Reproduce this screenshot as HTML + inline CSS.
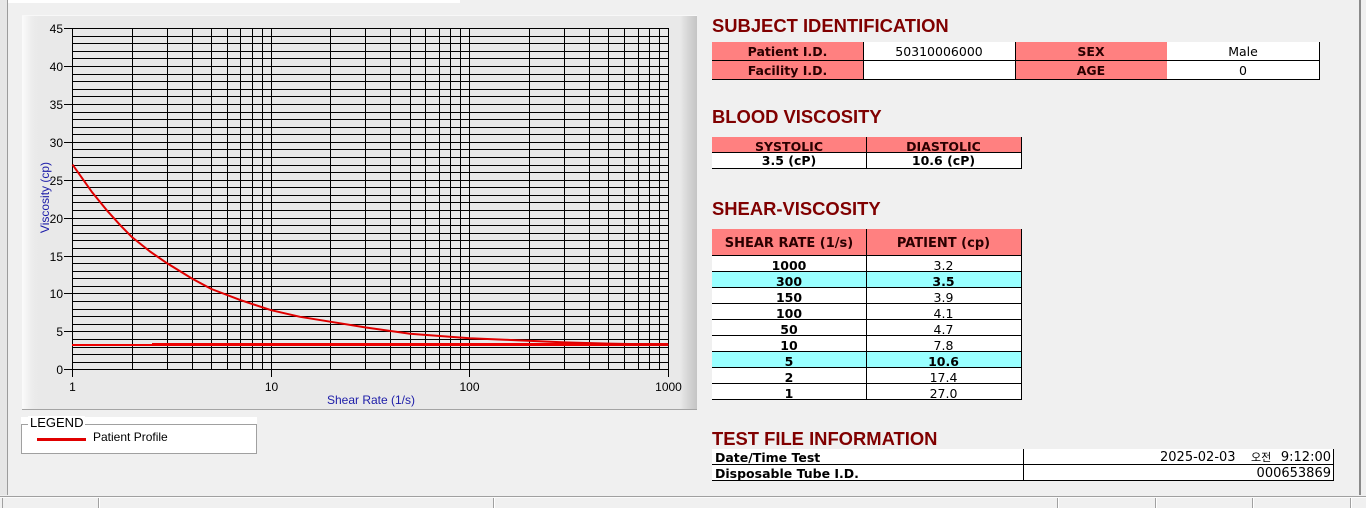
<!DOCTYPE html>
<html>
<head>
<meta charset="utf-8">
<style>
html,body{margin:0;padding:0;}
body{width:1366px;height:508px;overflow:hidden;background:#f0f0f0;position:relative;font-family:"Liberation Sans","Noto Sans CJK KR",sans-serif;}
.a{position:absolute;}
.panel{position:absolute;left:22px;top:15px;width:675px;height:393px;
 background:linear-gradient(to right,#fbfbfb 0px,#ececec 10px,#e9e9e9 16px,#e9e9e9 658px,#d6d6d6 666px,#c4c4c4 675px);
 border-bottom:1px solid #a4a4a4;border-top:1px solid #f8f8f8;}
.h{position:absolute;left:712px;font-family:"Liberation Sans",sans-serif;font-weight:bold;font-size:18.4px;line-height:20px;color:#800000;white-space:nowrap;}
.c{position:absolute;text-align:center;white-space:nowrap;font-family:"DejaVu Sans","Noto Sans CJK KR",sans-serif;font-size:12.5px;color:#000;overflow:visible;}
.p{background:#ff8080;font-weight:bold;color:#2a0000;}
.w{background:#ffffff;}
.cy{background:#99ffff;}
.b{font-weight:bold;}
.k{position:absolute;background:#000;}
</style>
</head>
<body>
<!-- window edges -->
<div class="a" style="left:0;top:0;width:7px;height:495px;background:#e6e6e6;"></div>
<div class="a" style="left:7px;top:0;width:1px;height:495px;background:#9c9c9c;"></div>
<div class="a" style="left:8px;top:0;width:452px;height:3px;background:#ffffff;"></div>
<div class="a" style="left:1359px;top:0;width:2px;height:495px;background:#8a8a8a;"></div>

<!-- chart panel -->
<div class="panel"></div>
<svg class="a" style="left:0;top:0;" width="700" height="412" viewBox="0 0 700 412" xmlns="http://www.w3.org/2000/svg">
 <rect x="72" y="28" width="597" height="342" fill="#e9e9e9"/>
 <path shape-rendering="crispEdges" stroke="#000" stroke-width="1" fill="none" d="
 M72 28.5H669 M72 36.5H669 M72 43.5H669 M72 51.5H669 M72 58.5H669 M72 66.5H669 M72 74.5H669 M72 81.5H669 M72 89.5H669 M72 96.5H669
 M72 104.5H669 M72 112.5H669 M72 119.5H669 M72 127.5H669 M72 134.5H669 M72 142.5H669 M72 149.5H669 M72 157.5H669 M72 165.5H669 M72 172.5H669
 M72 180.5H669 M72 187.5H669 M72 195.5H669 M72 202.5H669 M72 210.5H669 M72 218.5H669 M72 225.5H669 M72 233.5H669 M72 240.5H669 M72 248.5H669
 M72 256.5H669 M72 263.5H669 M72 271.5H669 M72 278.5H669 M72 286.5H669 M72 293.5H669 M72 301.5H669 M72 309.5H669 M72 316.5H669 M72 324.5H669
 M72 331.5H669 M72 339.5H669 M72 347.5H669 M72 354.5H669 M72 362.5H669 M72 369.5H669
 M72.5 28V370 M132.5 28V370 M167.5 28V370 M192.5 28V370 M211.5 28V370 M227.5 28V370 M240.5 28V370 M252.5 28V370 M262.5 28V370 M271.5 28V370
 M330.5 28V370 M365.5 28V370 M390.5 28V370 M410.5 28V370 M425.5 28V370 M439.5 28V370 M450.5 28V370 M460.5 28V370 M469.5 28V370
 M529.5 28V370 M564.5 28V370 M589.5 28V370 M608.5 28V370 M624.5 28V370 M638.5 28V370 M649.5 28V370 M659.5 28V370 M668.5 28V370
 M64 28.5H72 M64 66.5H72 M64 104.5H72 M64 142.5H72 M64 180.5H72 M64 218.5H72 M64 256.5H72 M64 293.5H72 M64 331.5H72 M64 369.5H72
 M72.5 370V377 M271.5 370V377 M469.5 370V377 M668.5 370V377"/>
 <g font-family="Liberation Sans, sans-serif" font-size="12" fill="#000" text-anchor="end">
  <text x="63" y="33">45</text>
  <text x="63" y="71">40</text>
  <text x="63" y="109">35</text>
  <text x="63" y="147">30</text>
  <text x="63" y="185">25</text>
  <text x="63" y="223">20</text>
  <text x="63" y="261">15</text>
  <text x="63" y="298">10</text>
  <text x="63" y="336">5</text>
  <text x="63" y="374">0</text>
 </g>
 <g font-family="Liberation Sans, sans-serif" font-size="12" fill="#000" text-anchor="middle">
  <text x="72.5" y="391">1</text>
  <text x="271.5" y="391">10</text>
  <text x="469.5" y="391">100</text>
  <text x="668.5" y="391">1000</text>
 </g>
 <text x="371" y="404" font-family="Liberation Sans, sans-serif" font-size="12" fill="#1c1ca8" text-anchor="middle">Shear Rate (1/s)</text>
 <text x="49" y="197.5" transform="rotate(-90 49 197.5)" font-family="Liberation Sans, sans-serif" font-size="12" fill="#1c1ca8" text-anchor="middle">Viscosity (cp)</text>
 <!-- series -->
 <line x1="72" y1="345" x2="668" y2="345" stroke="#ee0000" stroke-width="2"/>
 <line x1="152" y1="344" x2="668" y2="344" stroke="#ee0000" stroke-width="2"/>
 <polyline fill="none" stroke="#e00000" stroke-width="2" stroke-linejoin="round" points="72.5,164.6 91.7,191.7 107.5,211.1 120.8,225.8 132.3,237.4 150,251.5 167.3,263.4 192.1,278.6 211.4,289 240.4,300.1 271.2,310.2 300,316.8 331,321.8 365.9,327.5 410,333.7 469.8,338.2 504.8,339.7 564.6,342.4 608.7,343.6 668.5,344.8"/>
</svg>

<!-- legend -->
<div class="a" style="left:21px;top:417px;width:236px;height:37px;background:#ffffff;"></div>
<div class="a" style="left:21px;top:424px;width:234px;height:28px;border:1px solid #a0a0a0;"></div>
<div class="a" style="left:28px;top:416px;padding:0 2px;background:#fff;font-size:13px;line-height:14px;color:#000;">LEGEND</div>
<div class="a" style="left:37px;top:438px;width:49px;height:3px;background:#e00000;"></div>
<div class="a" style="left:93px;top:430px;font-size:12px;line-height:14px;color:#000;">Patient Profile</div>

<!-- SUBJECT IDENTIFICATION -->
<div class="h" style="top:16px;">SUBJECT IDENTIFICATION</div>
<div class="c p" style="left:712px;top:42px;width:151px;height:18px;line-height:20px;">Patient I.D.</div>
<div class="c w" style="left:863px;top:42px;width:152px;height:18px;line-height:20px;">50310006000</div>
<div class="c p" style="left:1015px;top:42px;width:152px;height:18px;line-height:20px;">SEX</div>
<div class="c w" style="left:1167px;top:42px;width:152px;height:18px;line-height:20px;">Male</div>
<div class="c p" style="left:712px;top:61px;width:151px;height:18px;line-height:20px;">Facility I.D.</div>
<div class="c w" style="left:863px;top:61px;width:152px;height:18px;line-height:20px;"></div>
<div class="c p" style="left:1015px;top:61px;width:152px;height:18px;line-height:20px;">AGE</div>
<div class="c w" style="left:1167px;top:61px;width:152px;height:18px;line-height:20px;">0</div>
<div class="k" style="left:712px;top:60px;width:608px;height:1px;"></div>
<div class="k" style="left:712px;top:79px;width:608px;height:1px;"></div>
<div class="k" style="left:863px;top:42px;width:1px;height:38px;"></div>
<div class="k" style="left:1015px;top:42px;width:1px;height:38px;"></div>
<div class="k" style="left:1319px;top:42px;width:1px;height:38px;"></div>

<!-- BLOOD VISCOSITY -->
<div class="h" style="top:107px;">BLOOD VISCOSITY</div>
<div class="c p" style="left:712px;top:137px;width:154px;height:15px;line-height:19px;overflow:hidden;">SYSTOLIC</div>
<div class="c p" style="left:866px;top:137px;width:155px;height:15px;line-height:19px;overflow:hidden;">DIASTOLIC</div>
<div class="c w b" style="left:712px;top:153px;width:154px;height:15px;line-height:16px;">3.5 (cP)</div>
<div class="c w b" style="left:866px;top:153px;width:155px;height:15px;line-height:16px;">10.6 (cP)</div>
<div class="k" style="left:712px;top:152px;width:310px;height:1px;"></div>
<div class="k" style="left:712px;top:168px;width:310px;height:1px;"></div>
<div class="k" style="left:866px;top:137px;width:1px;height:32px;"></div>
<div class="k" style="left:1021px;top:137px;width:1px;height:32px;"></div>

<!-- SHEAR-VISCOSITY -->
<div class="h" style="top:199px;">SHEAR-VISCOSITY</div>
<div class="c p" style="left:712px;top:229px;width:154px;height:26px;line-height:30px;font-size:13px;">SHEAR RATE (1/s)</div>
<div class="c p" style="left:866px;top:229px;width:155px;height:26px;line-height:30px;font-size:13px;">PATIENT (cp)</div>

<div class="c w b" style="left:712px;top:256px;width:154px;height:15px;line-height:19px;">1000</div>
<div class="c w" style="left:866px;top:256px;width:155px;height:15px;line-height:19px;">3.2</div>
<div class="c cy b" style="left:712px;top:272px;width:154px;height:15px;line-height:19px;">300</div>
<div class="c cy b" style="left:866px;top:272px;width:155px;height:15px;line-height:19px;">3.5</div>
<div class="c w b" style="left:712px;top:288px;width:154px;height:15px;line-height:19px;">150</div>
<div class="c w" style="left:866px;top:288px;width:155px;height:15px;line-height:19px;">3.9</div>
<div class="c w b" style="left:712px;top:304px;width:154px;height:15px;line-height:19px;">100</div>
<div class="c w" style="left:866px;top:304px;width:155px;height:15px;line-height:19px;">4.1</div>
<div class="c w b" style="left:712px;top:320px;width:154px;height:15px;line-height:19px;">50</div>
<div class="c w" style="left:866px;top:320px;width:155px;height:15px;line-height:19px;">4.7</div>
<div class="c w b" style="left:712px;top:336px;width:154px;height:15px;line-height:19px;">10</div>
<div class="c w" style="left:866px;top:336px;width:155px;height:15px;line-height:19px;">7.8</div>
<div class="c cy b" style="left:712px;top:352px;width:154px;height:15px;line-height:19px;">5</div>
<div class="c cy b" style="left:866px;top:352px;width:155px;height:15px;line-height:19px;">10.6</div>
<div class="c w b" style="left:712px;top:368px;width:154px;height:15px;line-height:19px;">2</div>
<div class="c w" style="left:866px;top:368px;width:155px;height:15px;line-height:19px;">17.4</div>
<div class="c w b" style="left:712px;top:384px;width:154px;height:15px;line-height:19px;">1</div>
<div class="c w" style="left:866px;top:384px;width:155px;height:15px;line-height:19px;">27.0</div>

<div class="k" style="left:712px;top:255px;width:310px;height:1px;"></div>
<div class="k" style="left:712px;top:271px;width:310px;height:1px;"></div>
<div class="k" style="left:712px;top:287px;width:310px;height:1px;"></div>
<div class="k" style="left:712px;top:303px;width:310px;height:1px;"></div>
<div class="k" style="left:712px;top:319px;width:310px;height:1px;"></div>
<div class="k" style="left:712px;top:335px;width:310px;height:1px;"></div>
<div class="k" style="left:712px;top:351px;width:310px;height:1px;"></div>
<div class="k" style="left:712px;top:367px;width:310px;height:1px;"></div>
<div class="k" style="left:712px;top:383px;width:310px;height:1px;"></div>
<div class="k" style="left:712px;top:399px;width:310px;height:1px;"></div>
<div class="k" style="left:866px;top:229px;width:1px;height:171px;"></div>
<div class="k" style="left:1021px;top:229px;width:1px;height:171px;"></div>

<!-- TEST FILE INFORMATION -->
<div class="h" style="top:429px;">TEST FILE INFORMATION</div>
<div class="a" style="left:712px;top:449px;width:622px;height:31px;background:#fff;"></div>
<div class="c b" style="left:715px;top:449px;text-align:left;font-size:12.5px;line-height:17px;">Date/Time Test</div>
<div class="c b" style="left:715px;top:465px;text-align:left;font-size:12.5px;line-height:17px;">Disposable Tube I.D.</div>
<div class="c" style="left:1160px;top:449px;font-size:13px;line-height:17px;text-align:left;">2025-02-03</div>
<div class="c" style="left:1251px;top:449px;font-family:'Noto Sans CJK KR',sans-serif;font-size:11px;line-height:17px;text-align:left;">오전</div>
<div class="c" style="left:1231px;top:449px;width:100px;font-size:13px;line-height:17px;text-align:right;">9:12:00</div>
<div class="c" style="left:1231px;top:465px;width:100px;font-size:13px;line-height:17px;text-align:right;">000653869</div>
<div class="k" style="left:712px;top:464px;width:622px;height:1px;"></div>
<div class="k" style="left:712px;top:480px;width:622px;height:1px;"></div>
<div class="k" style="left:1023px;top:449px;width:1px;height:32px;"></div>
<div class="k" style="left:1333px;top:449px;width:1px;height:32px;"></div>

<!-- status bar -->
<div class="a" style="left:0;top:496px;width:1366px;height:1px;background:#a0a0a0;"></div>
<div class="a" style="left:0;top:497px;width:1366px;height:1px;background:#fbfbfb;"></div>
<div class="a" style="left:2px;top:498px;width:1px;height:10px;background:#a0a0a0;"></div>
<div class="a" style="left:98px;top:498px;width:1px;height:10px;background:#a0a0a0;"></div>
<div class="a" style="left:99px;top:498px;width:1px;height:10px;background:#fff;"></div>
<div class="a" style="left:493px;top:498px;width:1px;height:10px;background:#a0a0a0;"></div>
<div class="a" style="left:494px;top:498px;width:1px;height:10px;background:#fff;"></div>
<div class="a" style="left:1057px;top:498px;width:1px;height:10px;background:#a0a0a0;"></div>
<div class="a" style="left:1058px;top:498px;width:1px;height:10px;background:#fff;"></div>
<div class="a" style="left:1155px;top:498px;width:1px;height:10px;background:#a0a0a0;"></div>
<div class="a" style="left:1156px;top:498px;width:1px;height:10px;background:#fff;"></div>
<div class="a" style="left:1252px;top:498px;width:1px;height:10px;background:#a0a0a0;"></div>
<div class="a" style="left:1253px;top:498px;width:1px;height:10px;background:#fff;"></div>
<div class="a" style="left:1350px;top:498px;width:1px;height:10px;background:#a0a0a0;"></div>
<div class="a" style="left:1351px;top:498px;width:1px;height:10px;background:#fff;"></div>
</body>
</html>
